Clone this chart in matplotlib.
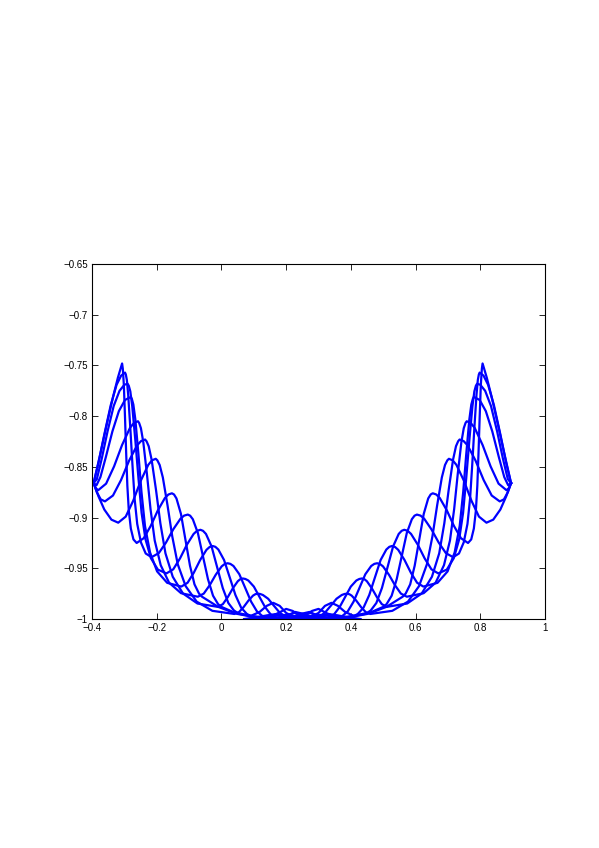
import matplotlib
matplotlib.use("Agg")
import matplotlib.pyplot as plt

# left halves of the traces (left end point -> past the bottom centre)
left_x = [
    [-0.395, -0.375, -0.355, -0.335, -0.320, -0.307, -0.30475, -0.3016, -0.298, -0.2944, -0.2908, -0.2863, -0.280, -0.2719, -0.262, -0.2402, -0.2184, -0.1966, -0.1748, -0.1639, -0.153, -0.1465, -0.139, -0.1251, -0.1112, -0.0972, -0.0833, -0.0693, -0.060, -0.010, 0.040, 0.090, 0.118, 0.140, 0.160, 0.180, 0.200, 0.230, 0.270],
    [-0.395, -0.380, -0.362, -0.342, -0.324, -0.310, -0.298, -0.2955, -0.2923, -0.2882, -0.2816, -0.275, -0.2685, -0.2603, -0.2488, -0.234, -0.216, -0.1936, -0.1712, -0.1488, -0.1264, -0.1152, -0.104, -0.0967, -0.0884, -0.0728, -0.0572, -0.0416, -0.026, -0.0104, 0.000, 0.050, 0.100, 0.140, 0.170, 0.200, 0.220, 0.250, 0.300],
    [-0.395, -0.385, -0.370, -0.352, -0.333, -0.315, -0.300, -0.290, -0.2864, -0.2816, -0.2756, -0.266, -0.2564, -0.2468, -0.2348, -0.218, -0.1964, -0.170, -0.149, -0.128, -0.107, -0.086, -0.0755, -0.065, -0.057, -0.0478, -0.0305, -0.0133, 0.004, 0.0213, 0.0385, 0.050, 0.110, 0.170, 0.200, 0.228, 0.255, 0.290, 0.330],
    [-0.395, -0.386, -0.374, -0.357, -0.337, -0.317, -0.298, -0.280, -0.2769, -0.2722, -0.266, -0.2566, -0.2472, -0.2363, -0.2207, -0.1989, -0.1677, -0.124, -0.1046, -0.0852, -0.0658, -0.0464, -0.0367, -0.027, -0.0188, -0.0095, 0.0081, 0.0257, 0.0432, 0.0608, 0.0783, 0.090, 0.150, 0.210, 0.250, 0.275, 0.310, 0.360],
    [-0.395, -0.388, -0.381, -0.3564, -0.3318, -0.3072, -0.2826, -0.2703, -0.258, -0.2543, -0.2488, -0.2414, -0.2303, -0.2192, -0.2062, -0.1877, -0.1618, -0.1248, -0.073, -0.0546, -0.0362, -0.0178, 0.0006, 0.0098, 0.019, 0.0275, 0.0372, 0.0553, 0.0735, 0.0916, 0.1098, 0.1279, 0.140, 0.200, 0.250, 0.290, 0.320, 0.360, 0.400],
    [-0.395, -0.385, -0.373, -0.360, -0.3352, -0.3104, -0.2856, -0.2608, -0.2484, -0.236, -0.2315, -0.2248, -0.2158, -0.2023, -0.1888, -0.173, -0.1505, -0.119, -0.074, -0.011, 0.0044, 0.0198, 0.0352, 0.0506, 0.0583, 0.066, 0.074, 0.0831, 0.1002, 0.1173, 0.1344, 0.1515, 0.1686, 0.180, 0.240, 0.290, 0.330, 0.370, 0.420],
    [-0.395, -0.380, -0.362, -0.340, -0.319, -0.2958, -0.2726, -0.2494, -0.2262, -0.2146, -0.203, -0.1981, -0.1909, -0.1811, -0.1666, -0.152, -0.135, -0.1107, -0.0766, -0.028, 0.040, 0.0544, 0.0688, 0.0832, 0.0976, 0.1048, 0.112, 0.1196, 0.1282, 0.1444, 0.1606, 0.1768, 0.193, 0.2092, 0.220, 0.270, 0.310, 0.345, 0.380, 0.430],
]
left_y = [
    [-0.866, -0.838, -0.809, -0.781, -0.762, -0.748, -0.7533, -0.7692, -0.8011, -0.8365, -0.8684, -0.8931, -0.9108, -0.9215, -0.925, -0.9203, -0.9081, -0.8929, -0.8807, -0.8772, -0.876, -0.8772, -0.8811, -0.8964, -0.9219, -0.9474, -0.9658, -0.9749, -0.978, -0.988, -0.994, -0.997, -0.993, -0.987, -0.984, -0.987, -0.994, -0.999, -1.000],
    [-0.866, -0.846, -0.818, -0.789, -0.769, -0.760, -0.757, -0.7588, -0.7643, -0.7788, -0.8116, -0.848, -0.8808, -0.9062, -0.9244, -0.9354, -0.939, -0.935, -0.9245, -0.9115, -0.901, -0.898, -0.897, -0.8981, -0.9016, -0.9152, -0.938, -0.9607, -0.977, -0.9853, -0.988, -0.995, -0.998, -0.999, -0.995, -0.990, -0.992, -0.998, -1.000],
    [-0.866, -0.862, -0.842, -0.815, -0.790, -0.775, -0.769, -0.768, -0.7699, -0.7755, -0.7904, -0.8241, -0.8615, -0.8952, -0.9213, -0.940, -0.9513, -0.955, -0.951, -0.9402, -0.9268, -0.9161, -0.913, -0.912, -0.913, -0.9161, -0.9284, -0.9489, -0.9694, -0.9842, -0.9915, -0.994, -0.998, -0.999, -0.997, -0.993, -0.995, -0.999, -1.000],
    [-0.866, -0.868, -0.860, -0.840, -0.815, -0.795, -0.784, -0.781, -0.7829, -0.7885, -0.8034, -0.8371, -0.8745, -0.9082, -0.9343, -0.953, -0.9643, -0.968, -0.9642, -0.9542, -0.9418, -0.9318, -0.929, -0.928, -0.9288, -0.9315, -0.9418, -0.959, -0.9763, -0.9887, -0.9949, -0.997, -0.999, -0.999, -0.996, -0.994, -0.998, -1.000],
    [-0.866, -0.871, -0.873, -0.8665, -0.8495, -0.8285, -0.8115, -0.8066, -0.805, -0.8067, -0.8119, -0.8258, -0.8569, -0.8915, -0.9226, -0.9469, -0.9642, -0.9745, -0.978, -0.9749, -0.9666, -0.9564, -0.9481, -0.9458, -0.945, -0.9456, -0.9477, -0.9558, -0.9693, -0.9828, -0.9925, -0.9974, -0.999, -1.000, -0.999, -0.996, -0.996, -0.999, -1.000],
    [-0.866, -0.875, -0.882, -0.884, -0.8782, -0.863, -0.844, -0.8288, -0.8245, -0.823, -0.8247, -0.8296, -0.8428, -0.8725, -0.9055, -0.9352, -0.9583, -0.9748, -0.9847, -0.988, -0.9853, -0.9783, -0.9697, -0.9627, -0.9607, -0.960, -0.9605, -0.962, -0.968, -0.978, -0.988, -0.9952, -0.9988, -1.000, -0.999, -0.997, -0.995, -0.997, -1.000],
    [-0.866, -0.879, -0.892, -0.902, -0.905, -0.899, -0.8833, -0.8637, -0.848, -0.8435, -0.842, -0.8435, -0.8481, -0.8604, -0.8879, -0.9185, -0.946, -0.9675, -0.9828, -0.9919, -0.995, -0.9931, -0.9881, -0.9819, -0.9769, -0.9755, -0.975, -0.9753, -0.9763, -0.980, -0.9863, -0.9925, -0.997, -0.9993, -1.000, -0.999, -0.997, -0.996, -0.998, -1.000],
]

# right halves (right end point -> past the bottom centre), same heights as the left
right_x = [
    [0.895, 0.875, 0.855, 0.835, 0.820, 0.807, 0.80475, 0.8016, 0.798, 0.7944, 0.7908, 0.7863, 0.780, 0.7719, 0.762, 0.7402, 0.7184, 0.6966, 0.6748, 0.6639, 0.653, 0.6465, 0.639, 0.6251, 0.6112, 0.5972, 0.5833, 0.5693, 0.560, 0.510, 0.460, 0.410, 0.382, 0.360, 0.340, 0.320, 0.300, 0.270, 0.230],
    [0.895, 0.880, 0.862, 0.842, 0.824, 0.810, 0.798, 0.7955, 0.7923, 0.7882, 0.7816, 0.775, 0.7685, 0.7603, 0.7488, 0.734, 0.716, 0.6936, 0.6712, 0.6488, 0.6264, 0.6152, 0.604, 0.5967, 0.5884, 0.5728, 0.5572, 0.5416, 0.526, 0.5104, 0.500, 0.450, 0.400, 0.360, 0.330, 0.300, 0.280, 0.250, 0.200],
    [0.895, 0.885, 0.870, 0.852, 0.833, 0.815, 0.800, 0.790, 0.7864, 0.7816, 0.7756, 0.766, 0.7564, 0.7468, 0.7348, 0.718, 0.6964, 0.670, 0.649, 0.628, 0.607, 0.586, 0.5755, 0.565, 0.557, 0.5478, 0.5305, 0.5133, 0.496, 0.4787, 0.4615, 0.450, 0.390, 0.330, 0.300, 0.272, 0.245, 0.210, 0.170],
    [0.895, 0.886, 0.874, 0.857, 0.837, 0.817, 0.798, 0.780, 0.7769, 0.7722, 0.766, 0.7566, 0.7472, 0.7363, 0.7207, 0.6989, 0.6677, 0.624, 0.6046, 0.5852, 0.5658, 0.5464, 0.5367, 0.527, 0.5188, 0.5095, 0.4919, 0.4743, 0.4568, 0.4392, 0.4217, 0.410, 0.350, 0.290, 0.250, 0.225, 0.190, 0.140],
    [0.895, 0.888, 0.881, 0.8564, 0.8318, 0.8072, 0.7826, 0.7703, 0.758, 0.7543, 0.7488, 0.7414, 0.7303, 0.7192, 0.7062, 0.6877, 0.6618, 0.6248, 0.573, 0.5546, 0.5362, 0.5178, 0.4994, 0.4902, 0.481, 0.4725, 0.4628, 0.4447, 0.4265, 0.4084, 0.3902, 0.3721, 0.360, 0.300, 0.250, 0.210, 0.180, 0.140, 0.100],
    [0.895, 0.885, 0.873, 0.860, 0.8352, 0.8104, 0.7856, 0.7608, 0.7484, 0.736, 0.7315, 0.7248, 0.7158, 0.7023, 0.6888, 0.673, 0.6505, 0.619, 0.574, 0.511, 0.4956, 0.4802, 0.4648, 0.4494, 0.4417, 0.434, 0.426, 0.4169, 0.3998, 0.3827, 0.3656, 0.3485, 0.3314, 0.320, 0.260, 0.210, 0.170, 0.130, 0.080],
    [0.895, 0.880, 0.862, 0.840, 0.819, 0.7958, 0.7726, 0.7494, 0.7262, 0.7146, 0.703, 0.6981, 0.6909, 0.6811, 0.6666, 0.652, 0.635, 0.6107, 0.5766, 0.528, 0.460, 0.4456, 0.4312, 0.4168, 0.4024, 0.3952, 0.388, 0.3804, 0.3718, 0.3556, 0.3394, 0.3232, 0.307, 0.2908, 0.280, 0.230, 0.190, 0.155, 0.120, 0.070],
]
right_y = left_y

fig = plt.figure(figsize=(5.99, 8.48), dpi=100)
ax = fig.add_axes([0.1536, 0.270, 0.7563, 0.4186])

for xs, ys in zip(left_x, left_y):
    ax.plot(xs, ys, color=(0, 0, 1), lw=1.6, solid_joinstyle='round')
for xs, ys in zip(right_x, right_y):
    ax.plot(xs, ys, color=(0, 0, 1), lw=1.6, solid_joinstyle='round')

ax.set_xlim(-0.4, 1.0)
ax.set_ylim(-1.0, -0.65)
ax.set_xticks([-0.4, -0.2, 0, 0.2, 0.4, 0.6, 0.8, 1])
ax.set_xticklabels(['\u22120.4', '\u22120.2', '0', '0.2', '0.4', '0.6', '0.8', '1'])
ax.set_yticks([-1, -0.95, -0.9, -0.85, -0.8, -0.75, -0.7, -0.65])
ax.set_yticklabels(['\u22121', '\u22120.95', '\u22120.9', '\u22120.85', '\u22120.8',
                    '\u22120.75', '\u22120.7', '\u22120.65'])
ax.tick_params(direction='in', top=True, right=True, length=4, width=0.6,
               labelsize=7, pad=3)
for lab in ax.get_xticklabels() + ax.get_yticklabels():
    lab.set_family('Liberation Sans')
for s in ax.spines.values():
    s.set_linewidth(0.8)

fig.savefig('out.png', dpi=100)
